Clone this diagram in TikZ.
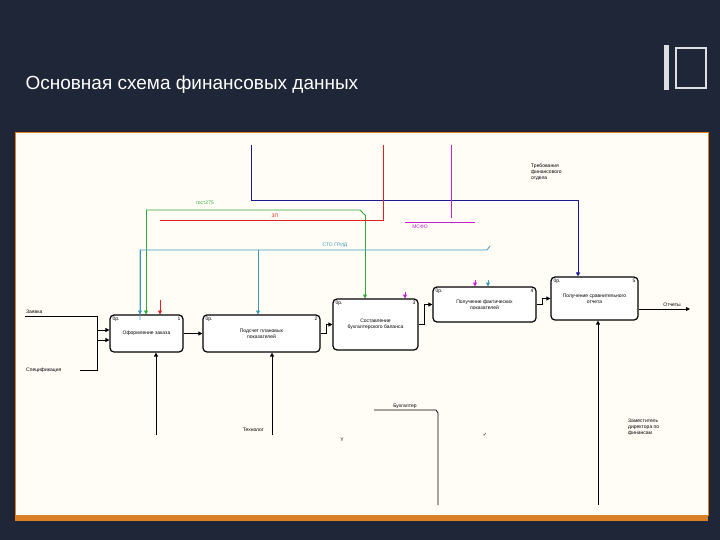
\documentclass[tikz,border=0pt]{standalone}
\usepackage{fontspec}
\setmainfont{Liberation Sans}
\newfontfamily\djv{DejaVu Sans}
\usetikzlibrary{arrows.meta}
\definecolor{bg}{HTML}{1E2638}
\definecolor{paper}{HTML}{FFFDF6}
\definecolor{cgreen}{HTML}{2DAA3A}
\definecolor{cred}{HTML}{E02020}
\definecolor{cmag}{HTML}{C020D0}
\definecolor{cteal}{HTML}{3A9AB8}
\definecolor{cnavy}{HTML}{1A1A9A}
\tikzset{
 blk/.style={draw,very thick,rounded corners=4pt,fill=white,align=center,font=\fontsize{5}{6}\selectfont,inner sep=1pt},
 lbl/.style={font=\fontsize{5}{6}\selectfont,inner sep=1pt,align=left},
 ar/.style={-{Triangle[length=4pt,width=4pt]}},
 con/.style={line width=0.8pt},
}
\begin{document}
\begin{tikzpicture}[x=1pt,y=-1pt]
\useasboundingbox (0,0) rectangle (720,540);
\fill[bg] (0,0) rectangle (720,540);
\node[anchor=west,text=white,font=\fontsize{19}{22}\selectfont] (title) at (22,85) {Основная схема финансовых данных};
\fill[white!85!bg] (664,45) rectangle (669,90);
\draw[white!85!bg,line width=1.5pt] (676,48) rectangle (706,88);
\fill[paper] (15,133) rectangle (708,515);
\draw[orange!50!brown,line width=1pt] (15,133) rectangle (708,515);
\fill[orange!40!brown] (15,515) rectangle (708,521);
% boxes
\node[blk,minimum width=73pt,minimum height=37pt] (b1) at (146.5,333.5) {Оформление заказа};
\node[blk,minimum width=117pt,minimum height=37pt] (b2) at (261.5,333.5) {Подсчет плановых\\показателей};
\node[blk,minimum width=85pt,minimum height=51pt] (b3) at (375.5,324.5) {Составление\\бухгалтерского баланса};
\node[blk,minimum width=103pt,minimum height=35pt] (b4) at (484.5,304.5) {Получение фактических\\показателей};
\node[blk,minimum width=87pt,minimum height=43pt] (b5) at (594.5,298.5) {Получение сравнительного\\отчета};
\foreach \b/\n in {b1/1,b2/2,b3/3,b4/4,b5/5}{
 \node[lbl,anchor=north east] at ([xshift=-2pt,yshift=-1pt]\b.north east) {\n};
 \node[lbl,anchor=north west] at ([xshift=2pt,yshift=-1pt]\b.north west) {0р.};
}
% inputs
\coordinate (zin) at (25,316);
\node[lbl,anchor=south west] (zl) at (25,315) {Заявка};
\node[lbl,anchor=west] (sl) at (25,370) {Спецификация};
\draw[con] (zin) -- (97,316) -- (97,340);
\draw[con,ar] (97,330) -- (b1.west|-0,330);
\draw[con] (80,370) -- (97,370) -- (97,340);
\draw[con,ar] (97,340) -- (b1.west|-0,340);
\draw[con,ar] (b1.east) -- ++(8,0) -- (b2.west);
\draw[con,ar] (b2.east) -- ++(6,0) |- (b3.west);
\draw[con,ar] (b3.east) -- ++(6,0) |- (b4.west);
\draw[con,ar] (b4.east) -- ++(6,0) |- (b5.west);
\coordinate (oend) at (690,309);
\draw[con,ar] (b5.east|-0,309) -- (oend);
\node[lbl,anchor=south] (ot) at (672,308) {Отчеты};
% navy
\draw[con,draw=cnavy] (251,145) -- (251,200) -- (578,200);
\draw[con,ar,draw=cnavy,fill=cnavy] (578,200) -- (b5.north-|578,0);
\node[lbl,anchor=west] (tr) at (530,172) {Требования\\финансового\\отдела};
% green
\node[lbl,text=cgreen,anchor=south] (gl) at (205,206) {гост275};
\draw[con,draw=cgreen] (146,210) -- (360,210) -- (365,215);
\draw[con,ar,draw=cgreen,fill=cgreen] (146,210) -- (146,314.5);
\draw[con,ar,draw=cgreen,fill=cgreen] (365,215) -- (365,298.5);
% red
\draw[con,draw=cred] (383,145) -- (383,220) -- (160,220);
\node[lbl,text=cred,anchor=south] (zp) at (275,219) {ЗП};
\draw[con,ar,draw=cred,fill=cred] (160,300) -- (160,314.5);
% magenta
\draw[con,draw=cmag] (451,145) -- (451,218);
\draw[con,draw=cmag] (405,222) -- (475,222);
\node[lbl,text=cmag,anchor=north] (mc) at (420,224) {МСФО};
\draw[con,ar,draw=cmag,fill=cmag] (405,292) -- (405,298.5);
\draw[con,ar,draw=cmag,fill=cmag] (475,280) -- (475,286.5);
% teal
\draw[con,draw=cteal] (140,320) -- (140,250) -- (487,250) -- (490,246);
\node[lbl,text=cteal,anchor=south] (st) at (335,249) {СТО ГРИД};
\draw[con,ar,draw=cteal,fill=cteal] (140,250) -- (140,314.5);
\draw[con,ar,draw=cteal,fill=cteal] (258,250) -- (258,314.5);
\draw[con,ar,draw=cteal,fill=cteal] (488,280) -- (488,286.5);
% mechanisms
\draw[con,ar] (156,435) -- (b1.south-|156,0);
\draw[con,ar] (272,435) -- (b2.south-|272,0);
\node[lbl,anchor=east] (tx) at (265,430) {Технолог};
\node[lbl] (ya) at (342,440) {Y};
\draw[con] (374,410) -- (436,410) -- (438,413) -- (438,505);
\node[lbl,anchor=south] (bu) at (405,410) {Бухгалтер};
\node[lbl,font=\djv\fontsize{5}{6}\selectfont] (ck) at (485,435) {✓};
\draw[con,ar] (598,505) -- (b5.south-|598,0);
\node[lbl,anchor=west] (zd) at (627,427) {Заместитель\\директора по\\финансам};
\end{tikzpicture}
\end{document}
